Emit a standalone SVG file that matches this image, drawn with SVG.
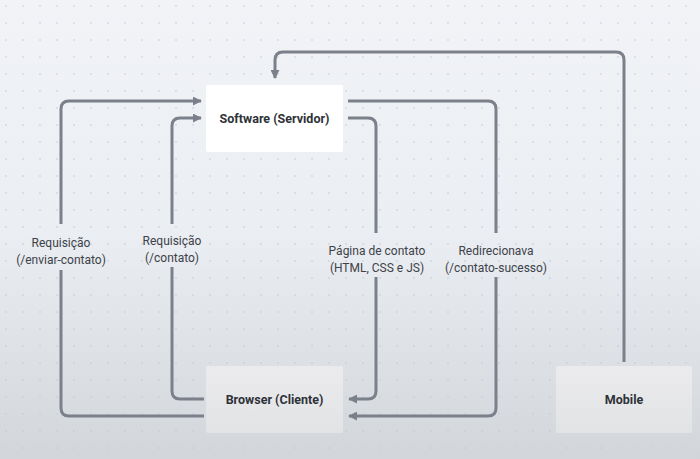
<svg xmlns="http://www.w3.org/2000/svg" width="700" height="459" viewBox="0 0 700 459">
<defs>
<linearGradient id="bg" x1="0" y1="0" x2="0" y2="1">
<stop offset="0" stop-color="#f1f3f7"/>
<stop offset="0.5" stop-color="#ebeef2"/>
<stop offset="1" stop-color="#d2d6db"/>
</linearGradient>
<pattern id="dots" width="17" height="17" patternUnits="userSpaceOnUse" x="2" y="2">
<circle cx="4" cy="4" r="0.8" fill="#c4c9d1"/>
</pattern>
<marker id="arr" viewBox="0 0 10 10" refX="9" refY="5" markerWidth="3" markerHeight="3" orient="auto" markerUnits="strokeWidth">
<path d="M0,0 L10,5 L0,10 z" fill="#7b808a"/>
</marker>
<linearGradient id="nodeg" x1="0" y1="0" x2="0" y2="1">
<stop offset="0" stop-color="#ebebed"/>
<stop offset="1" stop-color="#e2e3e5"/>
</linearGradient>
</defs>
<style>
.edge{fill:none;stroke:#7b808a;stroke-width:3;stroke-linejoin:round}
.lbl{font-family:Roboto,"Liberation Sans",sans-serif;font-size:12px;fill:#3d424a;text-anchor:middle}
.nt{font-family:Roboto,"Liberation Sans",sans-serif;font-size:12.5px;font-weight:bold;fill:#2e3238;text-anchor:middle}
</style>
<rect width="700" height="459" fill="url(#bg)"/>
<rect width="700" height="459" fill="url(#dots)"/>
<g id="connectors">
<path class="edge" d="M624,362 V60 Q624,52 616,52 H283 Q275,52 275,60 V78" marker-end="url(#arr)"/>
<path class="edge" d="M204,416 H69 Q61,416 61,408 V270 M61,224 V109 Q61,101 69,101 H201" marker-end="url(#arr)"/>
<path class="edge" d="M204,399 H180 Q172,399 172,391 V267 M172,224 V126 Q172,118 180,118 H201" marker-end="url(#arr)"/>
<path class="edge" d="M348,101 H488 Q496,101 496,109 V233 M496,277 V408 Q496,416 488,416 H349" marker-end="url(#arr)"/>
<path class="edge" d="M348,118 H368 Q376,118 376,126 V233 M376,277 V391 Q376,399 368,399 H349" marker-end="url(#arr)"/>
<text class="lbl" x="61" y="247">Requisição</text>
<text class="lbl" x="61" y="264">(/enviar-contato)</text>
<text class="lbl" x="172" y="245">Requisição</text>
<text class="lbl" x="172" y="262">(/contato)</text>
<text class="lbl" x="377" y="255">Página de contato</text>
<text class="lbl" x="377" y="272">(HTML, CSS e JS)</text>
<text class="lbl" x="496" y="255">Redirecionava</text>
<text class="lbl" x="496" y="272">(/contato-sucesso)</text>
</g>
<g id="software">
<rect x="206" y="85" width="137" height="67" rx="2" fill="#ffffff"/>
<text class="nt" x="274.5" y="122.5">Software (Servidor)</text>
</g>
<g id="browser">
<rect x="206" y="366" width="137" height="67" rx="2" fill="url(#nodeg)"/>
<text class="nt" x="274.5" y="404">Browser (Cliente)</text>
</g>
<g id="mobile">
<rect x="556" y="366" width="136" height="67" rx="2" fill="url(#nodeg)"/>
<text class="nt" x="624" y="404">Mobile</text>
</g>
</svg>
